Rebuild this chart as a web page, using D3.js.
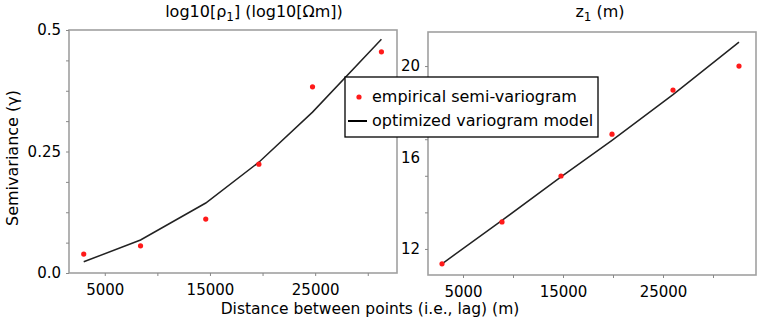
<!DOCTYPE html>
<html>
<head>
<meta charset="utf-8">
<script src="https://cdn.jsdelivr.net/npm/d3@7"></script>
<style>
  body { margin: 0; background: #fff; }
  svg { font-family: "DejaVu Sans", sans-serif; }
</style>
</head>
<body>
<div id="chart"></div>
<script>
// lag distances (m) and semivariances
const lagRho = [3000, 8400, 14600, 19650, 24750, 31300];
const empRho = [0.039, 0.056, 0.111, 0.224, 0.383, 0.455];
const modelRho = [0.023, 0.068, 0.144, 0.228, 0.331, 0.481];

const lagZ = [2900, 8900, 14800, 19900, 26000, 32600];
const empZ = [11.35, 13.18, 15.19, 17.02, 18.95, 20.0];
const modelZ = [11.35, 13.25, 15.15, 16.75, 18.75, 21.05];

const xTicks = [5000, 10000, 15000, 20000, 25000, 30000];
const xLabels = [5000, 15000, 25000];
const rhoTicks = [0, 0.0625, 0.125, 0.1875, 0.25, 0.3125, 0.375, 0.4375, 0.5];
const rhoLabels = [0, 0.25, 0.5];
const zTicks = [12, 13.6, 15.2, 16.8, 18.4, 20];
const zLabels = [12, 16, 20];

const W = 765, H = 320;
const svg = d3.select("#chart").append("svg")
  .attr("width", W).attr("height", H);

function panel(opts) {
  const { left, right, top, bottom, xDomain, yDomain, lag, emp, model,
          yTicks, yLabels, yFmt, titleX, title } = opts;
  const x = d3.scaleLinear().domain(xDomain).range([left, right]);
  const y = d3.scaleLinear().domain(yDomain).range([bottom, top]);
  const g = svg.append("g");

  // frame
  g.append("rect")
    .attr("x", left).attr("y", top)
    .attr("width", right - left).attr("height", bottom - top)
    .attr("fill", "#fff").attr("stroke", "#a0a0a0").attr("stroke-width", 1.6);

  // minor ticks (no labels)
  g.append("g").attr("transform", `translate(0,${bottom})`)
    .call(d3.axisBottom(x).tickValues(xTicks).tickSize(3).tickFormat(""))
    .call(a => a.select(".domain").remove())
    .call(a => a.selectAll("line").attr("stroke", "#888"));
  g.append("g").attr("transform", `translate(${left},0)`)
    .call(d3.axisLeft(y).tickValues(yTicks).tickSize(3).tickFormat(""))
    .call(a => a.select(".domain").remove())
    .call(a => a.selectAll("line").attr("stroke", "#888"));

  // labels
  g.append("g").attr("transform", `translate(0,${bottom})`)
    .call(d3.axisBottom(x).tickValues(xLabels).tickSize(0).tickPadding(11).tickFormat(d3.format("d")))
    .call(a => a.select(".domain").remove())
    .call(a => a.selectAll("text").attr("fill", "#000")
      .style("font-size", "15px").style("font-family", "DejaVu Sans"));
  g.append("g").attr("transform", `translate(${left},0)`)
    .call(d3.axisLeft(y).tickValues(yLabels).tickSize(0).tickPadding(8).tickFormat(yFmt))
    .call(a => a.select(".domain").remove())
    .call(a => a.selectAll("text").attr("fill", "#000")
      .style("font-size", "15px").style("font-family", "DejaVu Sans"));

  // model line
  g.append("path")
    .datum(lag.map((d, i) => [d, model[i]]))
    .attr("fill", "none").attr("stroke", "#222").attr("stroke-width", 1.5)
    .attr("d", d3.line().x(d => x(d[0])).y(d => y(d[1])));

  // empirical points
  g.selectAll("circle.emp")
    .data(lag.map((d, i) => [d, emp[i]]))
    .join("circle")
    .attr("class", "emp")
    .attr("cx", d => x(d[0])).attr("cy", d => y(d[1]))
    .attr("r", 2.6).attr("fill", "#ff1a1a");

  // title
  const t = svg.append("text")
    .attr("x", titleX).attr("y", 17)
    .attr("text-anchor", "middle")
    .style("font-size", "16px");
  title(t);
}

panel({
  left: 69, right: 397, top: 30, bottom: 273,
  xDomain: [1600, 32780], yDomain: [0, 0.5],
  lag: lagRho, emp: empRho, model: modelRho,
  yTicks: rhoTicks, yLabels: rhoLabels,
  yFmt: d => d === 0 ? "0.0" : String(d),
  titleX: 254,
  title: t => {
    t.append("tspan").text("log10[ρ");
    t.append("tspan").attr("dy", 4).style("font-size", "12px").text("1");
    t.append("tspan").attr("dy", -4).text("] (log10[Ωm])");
  }
});

panel({
  left: 428, right: 756, top: 32, bottom: 275,
  xDomain: [1500, 34300], yDomain: [10.86, 21.49],
  lag: lagZ, emp: empZ, model: modelZ,
  yTicks: zTicks, yLabels: zLabels,
  yFmt: d3.format("d"),
  titleX: 600,
  title: t => {
    t.append("tspan").text("z");
    t.append("tspan").attr("dy", 4).style("font-size", "12px").text("1");
    t.append("tspan").attr("dy", -4).text(" (m)");
  }
});

// axis titles
svg.append("text")
  .attr("transform", "translate(18,158) rotate(-90)")
  .attr("text-anchor", "middle")
  .style("font-size", "16px")
  .text("Semivariance (γ)");

svg.append("text")
  .attr("x", 370).attr("y", 314)
  .attr("text-anchor", "middle")
  .style("font-size", "15.5px")
  .text("Distance between points (i.e., lag) (m)");

// legend
const legend = svg.append("g").attr("transform", "translate(345,77)");
legend.append("rect")
  .attr("width", 253).attr("height", 60)
  .attr("fill", "#fff").attr("stroke", "#000").attr("stroke-width", 1.3);
legend.append("circle").attr("cx", 14).attr("cy", 20).attr("r", 2.6).attr("fill", "#ff1a1a");
legend.append("text").attr("x", 27).attr("y", 25).style("font-size", "16px")
  .text("empirical semi-variogram");
legend.append("line").attr("x1", 3).attr("x2", 22).attr("y1", 44).attr("y2", 44)
  .attr("stroke", "#000").attr("stroke-width", 2);
legend.append("text").attr("x", 27).attr("y", 49).style("font-size", "16px")
  .text("optimized variogram model");
</script>
</body>
</html>
